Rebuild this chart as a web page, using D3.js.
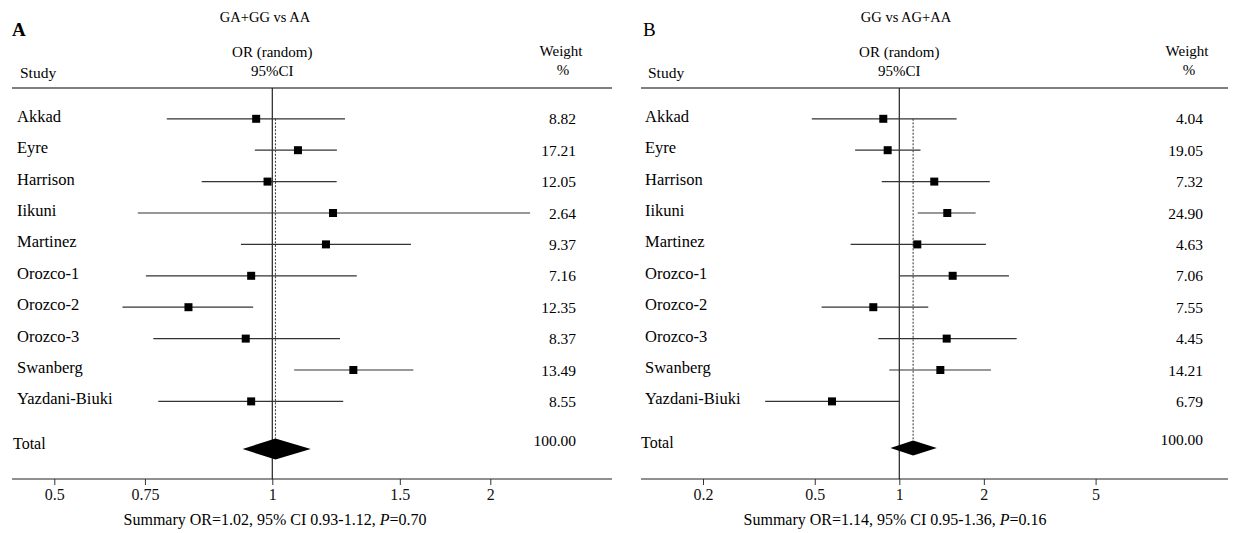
<!DOCTYPE html>
<html>
<head>
<meta charset="utf-8">
<script src="https://cdn.jsdelivr.net/npm/d3@7"></script>
<style>
html,body{margin:0;padding:0;background:#fff;}
svg{display:block;font-family:"Liberation Serif","Times New Roman",serif;}
</style>
</head>
<body>
<svg id="chart" width="1233" height="533"></svg>
<script>
// ---------- data ----------
const studies = ["Akkad","Eyre","Harrison","Iikuni","Martinez","Orozco-1","Orozco-2","Orozco-3","Swanberg","Yazdani-Biuki"];

// Panel A: GA+GG vs AA
const orA = [0.95, 1.085, 0.985, 1.213, 1.186, 0.935, 0.766, 0.919, 1.294, 0.935];
const loA = [0.715, 0.946, 0.799, 0.652, 0.905, 0.669, 0.621, 0.685, 1.072, 0.696];
const hiA = [1.26, 1.228, 1.227, 2.27, 1.554, 1.308, 0.941, 1.24, 1.566, 1.253];
const weightA = ["8.82","17.21","12.05","2.64","9.37","7.16","12.35","8.37","13.49","8.55"];
const totalA = [1.01, 0.91, 1.13]; // [OR, lo, hi]
const tickValA = [0.5, 0.667, 1, 1.5, 2];
const tickLabA = ["0.5","0.75","1","1.5","2"];

// Panel B: GG vs AG+AA
const orB = [0.877, 0.909, 1.332, 1.482, 1.159, 1.549, 0.808, 1.475, 1.40, 0.576];
const loB = [0.488, 0.696, 0.866, 1.163, 0.671, 1.00, 0.529, 0.842, 0.921, 0.333];
const hiB = [1.60, 1.19, 2.10, 1.87, 2.035, 2.457, 1.268, 2.618, 2.12, 1.00];
const weightB = ["4.04","19.05","7.32","24.90","4.63","7.06","7.55","4.45","14.21","6.79"];
const totalB = [1.12, 0.93, 1.36];
const tickValB = [0.2, 0.5, 1, 2, 5];
const tickLabB = ["0.2","0.5","1","2","5"];

// ---------- layout ----------
const svg = d3.select("#chart");

const panels = [
  { letter:"A", bold:true, title:"GA+GG vs AA", or:orA, lo:loA, hi:hiA, w:weightA, tot:totalA,
    tv:tickValA, tl:tickLabA, domain:[0.5,2], range:[54.3,490.3],
    left:12, right:612, studyX:17, weightX:576, letterX:12, weightC:561,
    summary:["Summary OR=1.02, 95% CI 0.93-1.12, ","0.70"], dh:10.5, sumX:275, totY:449 },
  { letter:"B", bold:false, title:"GG vs AG+AA", or:orB, lo:loB, hi:hiB, w:weightB, tot:totalB,
    tv:tickValB, tl:tickLabB, domain:[0.2,5], range:[703,1095.6],
    left:641, right:1228, studyX:645, weightX:1203, letterX:643, weightC:1187,
    summary:["Summary OR=1.14, 95% CI 0.95-1.36, ","0.16"], dh:7.5, sumX:895, totY:448 }
];

const headerY = 88, axisY = 479;

panels.forEach(p => {
  const g = svg.append("g");
  const x = d3.scaleLog().domain(p.domain).range(p.range);
  const y = d3.scalePoint().domain(studies).range([118.8, 401.4]);
  const x1 = x(1);

  // letter & title
  g.append("text").attr("x", p.letterX).attr("y", 36)
    .attr("font-size", 19).attr("font-weight", p.bold ? "bold" : "normal").text(p.letter);
  g.append("text").attr("x", p.letter === "A" ? 265 : 906).attr("y", 22)
    .attr("text-anchor","middle").attr("font-size", 14.5).text(p.title);
  g.append("text").attr("x", x1).attr("y", 57).attr("text-anchor","middle").attr("font-size",15).text("OR (random)");
  g.append("text").attr("x", x1).attr("y", 76).attr("text-anchor","middle").attr("font-size",15).text("95%CI");
  g.append("text").attr("x", p.studyX + 3).attr("y", 78).attr("font-size",15.5).text("Study");
  g.append("text").attr("x", p.weightC).attr("y", 56).attr("text-anchor","middle").attr("font-size",15).text("Weight");
  g.append("text").attr("x", p.weightC + 2).attr("y", 75).attr("text-anchor","middle").attr("font-size",15).text("%");

  // header line
  g.append("line").attr("x1", p.left).attr("x2", p.right).attr("y1", headerY).attr("y2", headerY)
    .attr("stroke","#555").attr("stroke-width",1.6);

  // vertical line at OR = 1
  g.append("line").attr("x1", x1).attr("x2", x1).attr("y1", headerY).attr("y2", axisY)
    .attr("stroke","#222").attr("stroke-width",1.2);

  // dashed line at pooled OR
  g.append("line").attr("x1", x(p.tot[0])).attr("x2", x(p.tot[0]))
    .attr("y1", y(studies[0])).attr("y2", p.totY - p.dh)
    .attr("stroke","#333").attr("stroke-width",1).attr("stroke-dasharray","2,1.5");

  // CI lines
  g.selectAll(".ci").data(studies).enter().append("line")
    .attr("x1", (d,i) => x(p.lo[i])).attr("x2", (d,i) => x(p.hi[i]))
    .attr("y1", d => y(d)).attr("y2", d => y(d))
    .attr("stroke","#333").attr("stroke-width",1.2);

  // squares
  const s = 8;
  g.selectAll(".sq").data(studies).enter().append("rect")
    .attr("x", (d,i) => x(p.or[i]) - s/2).attr("y", d => y(d) - s/2)
    .attr("width", s).attr("height", s).attr("fill","#000");

  // study labels
  g.selectAll(".lab").data(studies).enter().append("text")
    .attr("x", p.studyX).attr("y", d => y(d) + 3)
    .attr("font-size",16.5).text(d => d);

  // weights
  g.selectAll(".wt").data(studies).enter().append("text")
    .attr("x", p.weightX).attr("y", (d,i) => y(d) + 5.5)
    .attr("text-anchor","end").attr("font-size",15.5).text((d,i) => p.w[i]);

  // total
  g.append("text").attr("x", p.studyX - 4).attr("y", p.totY).attr("font-size",16).text("Total");
  g.append("text").attr("x", p.weightX).attr("y", p.totY - 3).attr("text-anchor","end").attr("font-size",15.5).text("100.00");

  // diamond
  const cy = p.totY;
  g.append("path")
    .attr("d", `M${x(p.tot[1])},${cy} L${x(p.tot[0])},${cy - p.dh} L${x(p.tot[2])},${cy} L${x(p.tot[0])},${cy + p.dh} Z`)
    .attr("fill","#000");

  // axis
  const axis = d3.axisBottom(x).tickValues(p.tv).tickFormat((d,i) => p.tl[i]).tickSize(6).tickPadding(4);
  const ag = g.append("g").attr("transform", `translate(0,${axisY})`).call(axis);
  ag.select(".domain").remove();
  ag.selectAll("text").attr("font-size",16).attr("font-family","Liberation Serif").attr("fill","#111");
  ag.selectAll(".tick line").attr("stroke","#333");
  g.append("line").attr("x1", p.left).attr("x2", p.right).attr("y1", axisY).attr("y2", axisY)
    .attr("stroke","#222").attr("stroke-width",1.2);

  // summary
  const t = g.append("text").attr("x", p.sumX).attr("y", 525).attr("text-anchor","middle").attr("font-size",16);
  t.append("tspan").text(p.summary[0]);
  t.append("tspan").attr("font-style","italic").text("P");
  t.append("tspan").text("=" + p.summary[1]);
});
</script>
</body>
</html>
